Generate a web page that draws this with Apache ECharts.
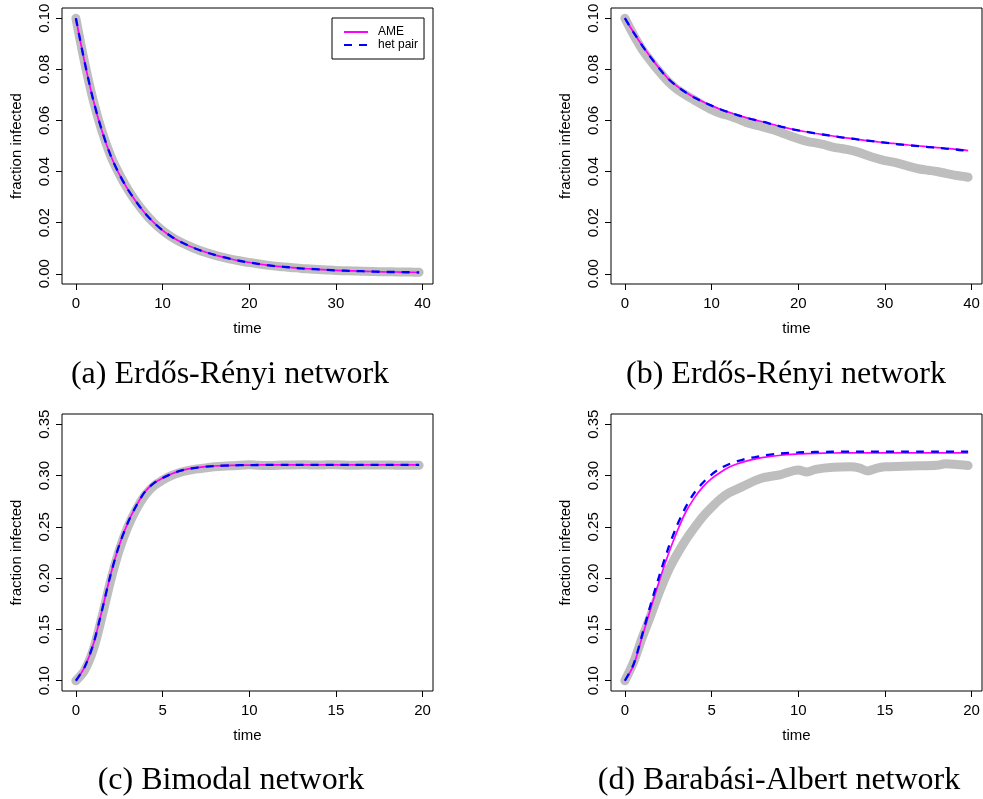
<!DOCTYPE html>
<html>
<head>
<meta charset="utf-8">
<script src="https://cdn.jsdelivr.net/npm/echarts@6.0.0/dist/echarts.min.js"></script>
<style>
  html, body { margin: 0; padding: 0; background: #fff; }
  #chart-container { width: 983px; height: 799px; }
</style>
</head>
<body>
<div id="chart-container"></div>
<script>
// time points for panels (a) and (b)
var abTime = [0, 1, 2, 3, 4, 5, 6, 7, 8, 9, 10, 11, 12, 13, 14, 15, 16, 17, 18, 19, 20,
    21, 22, 23, 24, 25, 26, 27, 28, 29, 30, 31, 32, 33, 34, 35, 36, 37, 38, 39, 39.6]

// (a) Erdos-Renyi, dying out
var aSim = [0.1000, 0.0828, 0.0679, 0.0559, 0.0463, 0.0391, 0.0330, 0.0279, 0.0236, 0.0199, 0.0169,
    0.0145, 0.0125, 0.0109, 0.0095, 0.0083, 0.0073, 0.0064, 0.0056, 0.0050, 0.0044,
    0.0039, 0.0034, 0.0030, 0.0027, 0.0024, 0.0021, 0.0019, 0.0017, 0.0015, 0.0013,
    0.0012, 0.0011, 0.0010, 0.0009, 0.0008, 0.0008, 0.0007, 0.0007, 0.0006, 0.0006]
var aAme = [0.1000, 0.0830, 0.0680, 0.0560, 0.0464, 0.0390, 0.0330, 0.0280, 0.0236, 0.0200, 0.0170,
    0.0146, 0.0126, 0.0110, 0.0096, 0.0084, 0.0074, 0.0065, 0.0057, 0.0050, 0.0044,
    0.0039, 0.0034, 0.0030, 0.0027, 0.0024, 0.0021, 0.0019, 0.0017, 0.0015, 0.0013,
    0.0012, 0.0011, 0.0010, 0.0009, 0.0008, 0.0007, 0.0007, 0.0006, 0.0006, 0.0005]
var aPair = [0.1000, 0.0830, 0.0681, 0.0561, 0.0464, 0.0390, 0.0330, 0.0280, 0.0236, 0.0200, 0.0170,
    0.0146, 0.0126, 0.0110, 0.0096, 0.0084, 0.0074, 0.0065, 0.0057, 0.0050, 0.0044,
    0.0039, 0.0034, 0.0030, 0.0027, 0.0024, 0.0021, 0.0019, 0.0017, 0.0015, 0.0013,
    0.0012, 0.0011, 0.0010, 0.0009, 0.0008, 0.0007, 0.0007, 0.0006, 0.0006, 0.0005]

// (b) Erdos-Renyi, slow decay
var bSim = [0.1000, 0.0935, 0.0878, 0.0832, 0.0790, 0.0752, 0.0722, 0.0700, 0.0680, 0.0660, 0.0642,
    0.0628, 0.0618, 0.0606, 0.0592, 0.0583, 0.0574, 0.0565, 0.0553, 0.0540, 0.0528,
    0.0518, 0.0512, 0.0505, 0.0496, 0.0490, 0.0484, 0.0475, 0.0463, 0.0452, 0.0443,
    0.0437, 0.0428, 0.0418, 0.0410, 0.0405, 0.0400, 0.0393, 0.0386, 0.0381, 0.0378]
var bAme = [0.1000, 0.0945, 0.0893, 0.0846, 0.0802, 0.0763, 0.0734, 0.0710, 0.0690, 0.0673, 0.0658,
    0.0644, 0.0632, 0.0621, 0.0611, 0.0602, 0.0594, 0.0585, 0.0576, 0.0568, 0.0561,
    0.0555, 0.0549, 0.0544, 0.0539, 0.0534, 0.0530, 0.0525, 0.0521, 0.0517, 0.0513,
    0.0510, 0.0506, 0.0503, 0.0500, 0.0497, 0.0494, 0.0491, 0.0488, 0.0485, 0.0482]
var bPair = [0.1000, 0.0945, 0.0893, 0.0846, 0.0802, 0.0763, 0.0734, 0.0710, 0.0690, 0.0673, 0.0658,
    0.0644, 0.0632, 0.0621, 0.0611, 0.0602, 0.0594, 0.0585, 0.0576, 0.0568, 0.0561,
    0.0555, 0.0549, 0.0544, 0.0539, 0.0534, 0.0530, 0.0525, 0.0521, 0.0517, 0.0513,
    0.0509, 0.0505, 0.0502, 0.0499, 0.0496, 0.0493, 0.0490, 0.0487, 0.0483, 0.0480]

// time points for panels (c) and (d)
var cdTime = [0, 0.5, 1, 1.5, 2, 2.5, 3, 3.5, 4, 4.5, 5, 5.5, 6, 6.5, 7, 7.5, 8,
    9, 10, 10.5, 11, 12, 13, 13.5, 14, 14.5, 15, 16, 17, 18, 18.5, 19, 19.8]

// (c) Bimodal
var cSim = [0.100, 0.110, 0.130, 0.162, 0.197, 0.227, 0.250, 0.2675, 0.281, 0.290, 0.2955, 0.300,
    0.303, 0.305, 0.3065, 0.3075, 0.3085, 0.3095, 0.3105, 0.3100, 0.3098, 0.3103, 0.3106,
    0.3104, 0.3102, 0.3106, 0.3105, 0.3100, 0.3104, 0.3103, 0.3101, 0.3101, 0.3100]
var cAme = [0.100, 0.113, 0.135, 0.168, 0.203, 0.232, 0.254, 0.271, 0.2845, 0.2925, 0.2975, 0.3015,
    0.3045, 0.3065, 0.3078, 0.3087, 0.3093, 0.3099, 0.3102, 0.3103, 0.3104, 0.3105, 0.3105,
    0.3105, 0.3105, 0.3105, 0.3105, 0.3105, 0.3105, 0.3105, 0.3105, 0.3105, 0.3105]
var cPair = [0.100, 0.1132, 0.1353, 0.1683, 0.2032, 0.2322, 0.2541, 0.2711, 0.2846, 0.2926, 0.2976, 0.3015,
    0.3045, 0.3065, 0.3078, 0.3087, 0.3093, 0.3099, 0.3102, 0.3103, 0.3104, 0.3105, 0.3105,
    0.3105, 0.3105, 0.3105, 0.3105, 0.3105, 0.3105, 0.3105, 0.3105, 0.3105, 0.3105]

// (d) Barabasi-Albert
var dSim = [0.100, 0.118, 0.142, 0.164, 0.187, 0.207, 0.223, 0.237, 0.249, 0.260, 0.269, 0.277,
    0.283, 0.287, 0.291, 0.295, 0.298, 0.301, 0.3055, 0.3035, 0.306, 0.308, 0.3085,
    0.3075, 0.3045, 0.307, 0.3085, 0.309, 0.3095, 0.310, 0.3115, 0.311, 0.3098]
var dAme = [0.100, 0.115, 0.143, 0.171, 0.198, 0.223, 0.245, 0.264, 0.278, 0.289, 0.297, 0.303,
    0.308, 0.3115, 0.314, 0.316, 0.3177, 0.3198, 0.3210, 0.3214, 0.3217, 0.3220, 0.3221,
    0.3221, 0.3222, 0.3222, 0.3222, 0.3222, 0.3222, 0.3222, 0.3222, 0.3222, 0.3222]
var dPair = [0.100, 0.116, 0.145, 0.175, 0.203, 0.229, 0.251, 0.269, 0.283, 0.293, 0.301, 0.307,
    0.311, 0.314, 0.3165, 0.318, 0.3195, 0.3215, 0.3225, 0.3228, 0.3230, 0.3232, 0.3233,
    0.3233, 0.3233, 0.3233, 0.3233, 0.3233, 0.3233, 0.3233, 0.3233, 0.3233, 0.3233]

// tick labels
var xTicksAB = [0, 10, 20, 30, 40]
var yTicksAB = [0, 0.02, 0.04, 0.06, 0.08, 0.10]
var xTicksCD = [0, 5, 10, 15, 20]
var yTicksCD = [0.10, 0.15, 0.20, 0.25, 0.30, 0.35]

var captions = ['(a) Erdős-Rényi network', '(b) Erdős-Rényi network',
    '(c) Bimodal network', '(d) Barabási-Albert network']

var sansFont = '"Liberation Sans", Arial, sans-serif'
var serifFont = '32px "Liberation Serif", serif'

function pairs(time, vals) {
    return time.map(function (t, i) { return [t, vals[i]] })
}

function makeXAxis(idx, min, max, ticks) {
    return {
        type: 'value', gridIndex: idx, min: min, max: max,
        name: 'time', nameLocation: 'middle', nameGap: 37,
        nameTextStyle: { fontSize: 15, color: '#000', fontFamily: sansFont },
        axisLine: { show: false, onZero: false },
        axisTick: { show: true, length: 6, customValues: ticks, lineStyle: { color: '#000', width: 1 } },
        axisLabel: { customValues: ticks, margin: 12, fontSize: 15, color: '#000', fontFamily: sansFont },
        splitLine: { show: false }
    }
}

function makeYAxis(idx, min, max, ticks) {
    return {
        type: 'value', gridIndex: idx, min: min, max: max,
        name: 'fraction infected', nameLocation: 'middle', nameGap: 38, nameRotate: 90,
        nameTextStyle: { fontSize: 15, color: '#000', fontFamily: sansFont },
        axisLine: { show: false, onZero: false },
        axisTick: { show: true, length: 6, customValues: ticks, lineStyle: { color: '#000', width: 1 } },
        axisLabel: {
            customValues: ticks, margin: 10, rotate: 90, fontSize: 15, color: '#000', fontFamily: sansFont,
            formatter: function (v) { return v.toFixed(2) }
        },
        splitLine: { show: false }
    }
}

function makeSeries(idx, time, sim, ame, pair) {
    return [
        {
            name: 'simulation', type: 'line', xAxisIndex: idx, yAxisIndex: idx,
            data: pairs(time, sim), symbol: 'none', smooth: 0.3,
            lineStyle: { color: '#bebebe', width: 9, cap: 'round', join: 'round' }
        },
        {
            name: 'AME', type: 'line', xAxisIndex: idx, yAxisIndex: idx,
            data: pairs(time, ame), symbol: 'none', smooth: 0.3,
            itemStyle: { color: '#ff00ff' },
            lineStyle: { color: '#ff00ff', width: 1.7 }
        },
        {
            name: 'het pair', type: 'line', xAxisIndex: idx, yAxisIndex: idx,
            data: pairs(time, pair), symbol: 'none', smooth: 0.3,
            itemStyle: { color: '#0000ff' },
            lineStyle: { color: '#0000ff', width: 2.3, type: [8, 7] }
        }
    ]
}

var dom = document.getElementById('chart-container')
var myChart = echarts.init(dom, null, { renderer: 'canvas' })

var gridBox = { show: true, borderColor: '#000', borderWidth: 1, backgroundColor: 'transparent' }

var option = {
    animation: false,
    grid: [
        Object.assign({ left: 62, top: 8, width: 371, height: 276 }, gridBox),
        Object.assign({ left: 611, top: 8, width: 371, height: 276 }, gridBox),
        Object.assign({ left: 62, top: 414, width: 371, height: 277 }, gridBox),
        Object.assign({ left: 611, top: 414, width: 371, height: 277 }, gridBox)
    ],
    xAxis: [
        makeXAxis(0, -1.6, 41.2, xTicksAB),
        makeXAxis(1, -1.6, 41.2, xTicksAB),
        makeXAxis(2, -0.8, 20.6, xTicksCD),
        makeXAxis(3, -0.8, 20.6, xTicksCD)
    ],
    yAxis: [
        makeYAxis(0, -0.004, 0.104, yTicksAB),
        makeYAxis(1, -0.004, 0.104, yTicksAB),
        makeYAxis(2, 0.09, 0.36, yTicksCD),
        makeYAxis(3, 0.09, 0.36, yTicksCD)
    ],
    legend: {
        data: ['AME', 'het pair'],
        orient: 'vertical', left: 332, top: 18,
        padding: [8, 6, 8, 11], itemGap: 1, itemWidth: 24, itemHeight: 14,
        borderColor: '#000', borderWidth: 1,
        itemStyle: { opacity: 0 },
        textStyle: { fontSize: 12, color: '#000', fontFamily: sansFont, padding: [0, 0, 0, 5] }
    },
    graphic: [
        { type: 'text', x: 230, y: 375, style: { text: captions[0], font: serifFont, fill: '#000', align: 'center', verticalAlign: 'middle' } },
        { type: 'text', x: 786, y: 375, style: { text: captions[1], font: serifFont, fill: '#000', align: 'center', verticalAlign: 'middle' } },
        { type: 'text', x: 231, y: 781, style: { text: captions[2], font: serifFont, fill: '#000', align: 'center', verticalAlign: 'middle' } },
        { type: 'text', x: 779, y: 781, style: { text: captions[3], font: serifFont, fill: '#000', align: 'center', verticalAlign: 'middle' } }
    ],
    series: [].concat(
        makeSeries(0, abTime, aSim, aAme, aPair),
        makeSeries(1, abTime, bSim, bAme, bPair),
        makeSeries(2, cdTime, cSim, cAme, cPair),
        makeSeries(3, cdTime, dSim, dAme, dPair)
    )
}

if (option && typeof option === 'object') {
    myChart.setOption(option)
}

window.addEventListener('resize', myChart.resize)
</script>
</body>
</html>
